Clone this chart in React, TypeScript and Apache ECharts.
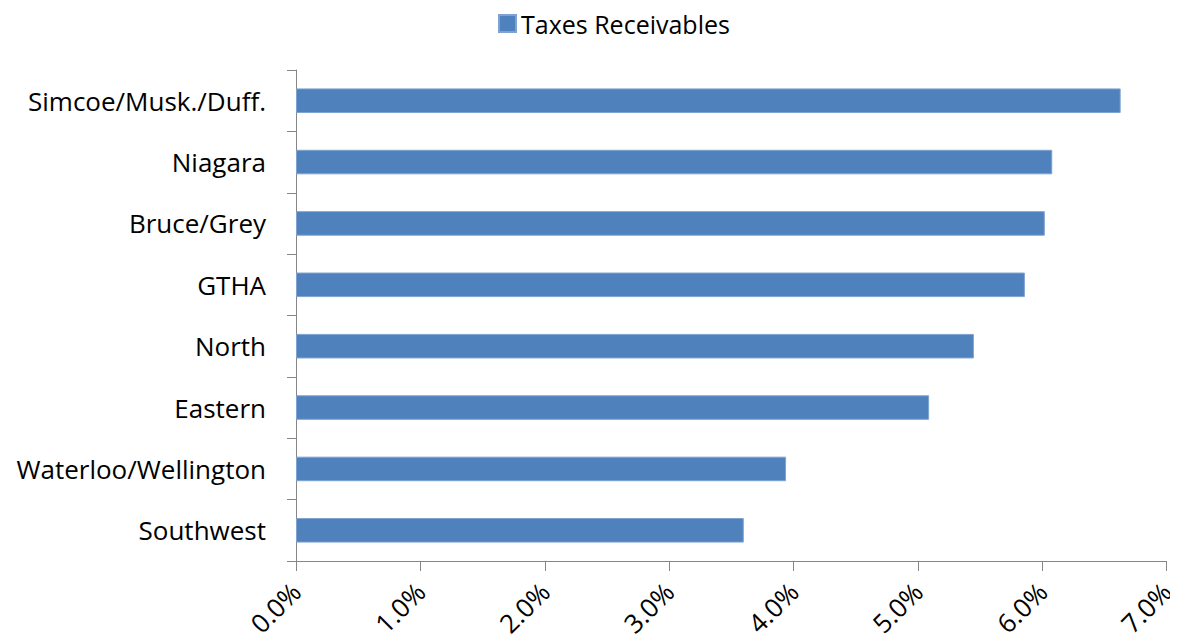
import React, { useEffect, useRef } from "react";
import * as echarts from "echarts";

const categories = [
  "Southwest",
  "Waterloo/Wellington",
  "Eastern",
  "North",
  "GTHA",
  "Bruce/Grey",
  "Niagara",
  "Simcoe/Musk./Duff.",
];
const values = [3.6, 3.94, 5.09, 5.45, 5.86, 6.02, 6.08, 6.63];
const seriesName = "Taxes Receivables";

export default function App() {
  const ref = useRef<HTMLDivElement>(null);
  useEffect(() => {
    if (!ref.current) return;
    const chart = echarts.init(ref.current, null, { renderer: "svg" });
    const font = "'Open Sans', 'Noto Sans', sans-serif";
    chart.setOption({
      animation: false,
      legend: {
        top: 6,
        left: 493,
        itemWidth: 17,
        itemHeight: 17,
        itemGap: 6,
        icon: "rect",
        data: [seriesName],
        textStyle: { fontSize: 25, color: "#000", fontFamily: font },
      },
      grid: { left: 296, right: 8, top: 70, bottom: 81, containLabel: false },
      xAxis: {
        type: "value",
        min: 0,
        max: 7,
        interval: 1,
        axisLine: { show: true, lineStyle: { color: "#868686", width: 1 } },
        axisTick: { show: true, length: 10, lineStyle: { color: "#868686" } },
        splitLine: { show: false },
        axisLabel: {
          rotate: 45,
          margin: 26,
          fontSize: 26,
          color: "#000",
          fontFamily: font,
          formatter: (v: number) => v.toFixed(1) + "%",
        },
      },
      yAxis: {
        type: "category",
        data: categories,
        axisLine: { show: true, lineStyle: { color: "#868686", width: 1 } },
        axisTick: { show: true, length: 9, lineStyle: { color: "#868686" } },
        axisLabel: {
          margin: 30,
          fontSize: 26,
          color: "#000",
          fontFamily: font,
        },
      },
      series: [
        {
          name: seriesName,
          type: "bar",
          data: values,
          barWidth: "40%",
          itemStyle: { color: "#4F81BD", borderColor: "#7FA3D0", borderWidth: 1 },
        },
      ],
    });
    return () => chart.dispose();
  }, []);
  return <div ref={ref} style={{ width: 1178, height: 642, margin: -8 }} />;
}
